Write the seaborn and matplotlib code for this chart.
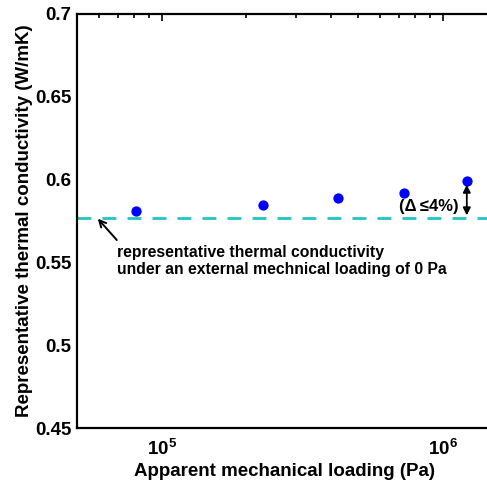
import numpy as np
import pandas as pd
import matplotlib
matplotlib.use("Agg")
import matplotlib.pyplot as plt
import seaborn as sns
from matplotlib.ticker import LogLocator, FixedLocator, NullFormatter

sns.set_style("white")
plt.rcParams['font.family'] = ['Liberation Sans', 'DejaVu Sans']
plt.rcParams['text.color'] = 'black'
plt.rcParams['axes.labelcolor'] = 'black'
plt.rcParams['xtick.color'] = 'black'
plt.rcParams['ytick.color'] = 'black'
plt.rcParams['mathtext.fontset'] = 'custom'
plt.rcParams['mathtext.rm'] = 'Liberation Sans:bold'
plt.rcParams['mathtext.bf'] = 'Liberation Sans:bold'
plt.rcParams['mathtext.default'] = 'bf'

loading_pa = [8.1e4, 2.3e5, 4.24e5, 7.3e5, 1.22e6]
conductivity = [0.581, 0.5847, 0.5887, 0.5921, 0.5992]
baseline_k = 0.5768
y_ticks = [0.45, 0.5, 0.55, 0.6, 0.65, 0.7]
y_tick_labels = ["0.45", "0.5", "0.55", "0.6", "0.65", "0.7"]

df = pd.DataFrame({"load": loading_pa, "k": conductivity})

fig = plt.figure(figsize=(4.87, 4.86), dpi=100)
ax = fig.add_axes([77/487, 58/486, (492-77)/487, (428-14)/486])

ax.axhline(baseline_k, color="#22c4c4", lw=2.0, ls=(0, (5, 4)), zorder=1)
sns.scatterplot(data=df, x="load", y="k", ax=ax, color="#0000ff", s=55,
                edgecolor="#0000ff", linewidth=0, zorder=3)

ax.set_xscale("log")
ax.set_xlim(5e4, 1.5e6)
ax.set_ylim(0.45, 0.7)
ax.yaxis.set_major_locator(FixedLocator(y_ticks))
ax.set_yticklabels(y_tick_labels)
ax.xaxis.set_major_locator(LogLocator(base=10, numticks=10))
ax.xaxis.set_minor_locator(LogLocator(base=10, subs=np.arange(2, 10), numticks=20))
ax.xaxis.set_minor_formatter(NullFormatter())

for s in ax.spines.values():
    s.set_linewidth(1.6)
    s.set_color("black")
ax.tick_params(axis="both", which="both", direction="in", top=True, right=False,
               colors="black", width=1.2)
ax.tick_params(axis="both", which="major", length=5, labelsize=13.5, pad=4)
ax.tick_params(axis="x", which="major", pad=8)
ax.tick_params(axis="both", which="minor", length=3)
for lab in ax.get_xticklabels() + ax.get_yticklabels():
    lab.set_fontweight("bold")

ax.set_xlabel("Apparent mechanical loading (Pa)", fontsize=13.5, fontweight="bold", labelpad=3)
ax.set_ylabel("Representative thermal conductivity (W/mK)", fontsize=13.5, fontweight="bold")
ax.yaxis.set_label_coords(-0.107, 0.5)

ax.text(6.93e4, 0.5605,
        "representative thermal conductivity\nunder an external mechnical loading of 0 Pa",
        fontsize=11.3, fontweight="bold", ha="left", va="top", linespacing=1.2)
ax.annotate("", xy=(5.93e4, baseline_k - 0.0004), xytext=(6.93e4, 0.5635),
            arrowprops=dict(arrowstyle="->", color="black", lw=1.4,
                            shrinkA=0, shrinkB=0, mutation_scale=12))
ax.annotate("", xy=(1.22e6, 0.5784), xytext=(1.22e6, 0.5969),
            arrowprops=dict(arrowstyle="<|-|>", color="black", lw=1.3,
                            shrinkA=0, shrinkB=0, mutation_scale=11))
ax.text(1.14e6, 0.5836, "(Δ\u2009≤4%)", fontsize=12,
        fontweight="bold", ha="right", va="center")

fig.savefig("out.png", dpi=100)
